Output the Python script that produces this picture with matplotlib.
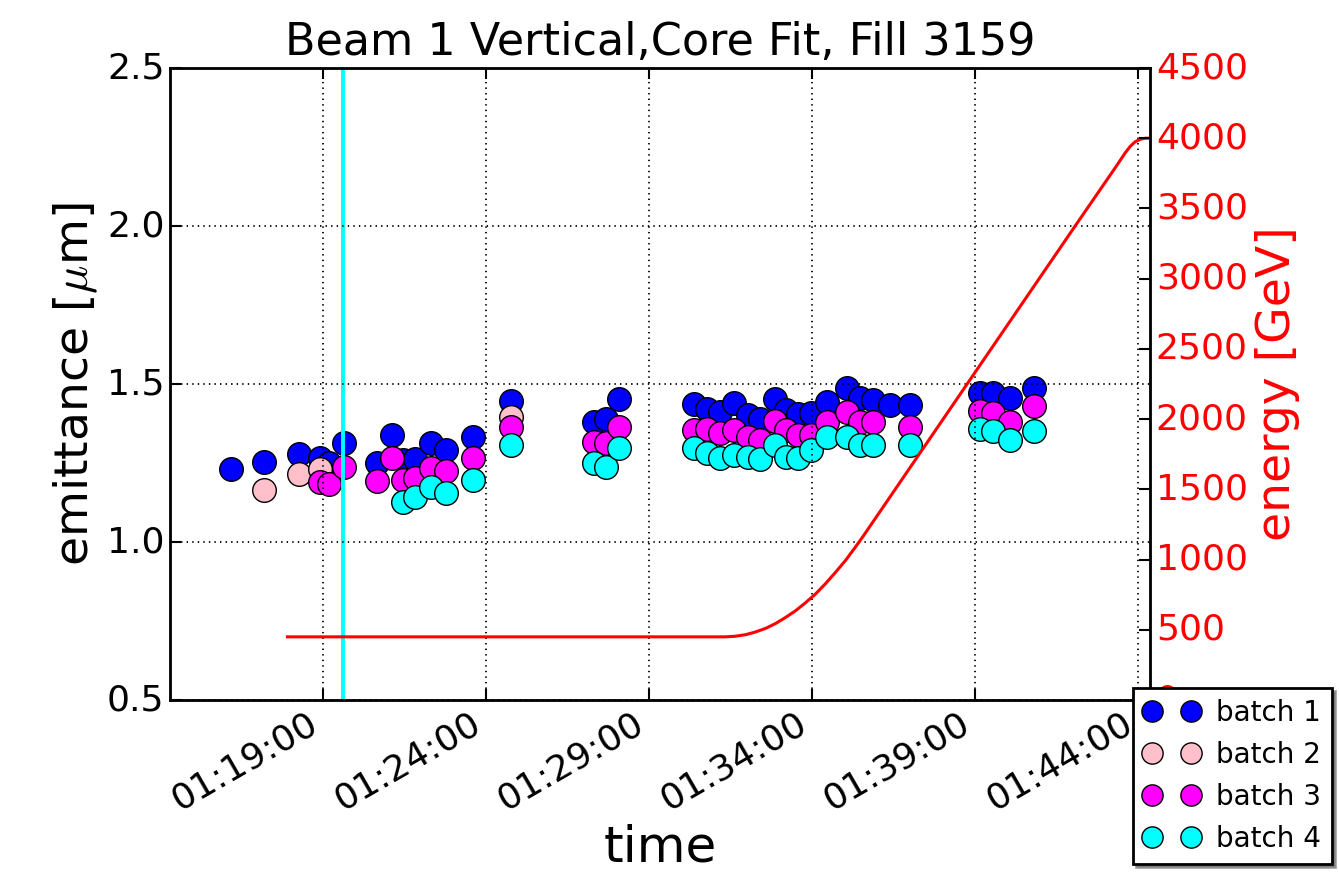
import numpy as np
import pandas as pd
import matplotlib
matplotlib.use("Agg")
import matplotlib.pyplot as plt
import matplotlib.dates as mdates

plt.style.use("classic")

# ---- emittance measurements (um), one row per scan time ----
nan = np.nan
scan_times = ["01:16:11", "01:17:10", "01:18:16", "01:18:54", "01:19:11", "01:19:39",
              "01:20:39", "01:21:07", "01:21:27", "01:21:49", "01:22:19", "01:22:46",
              "01:23:36", "01:24:46", "01:27:19", "01:27:41", "01:28:05",
              "01:30:23", "01:30:47", "01:31:11", "01:31:36", "01:32:02", "01:32:24",
              "01:32:52", "01:33:12", "01:33:34", "01:33:58", "01:34:28", "01:35:04",
              "01:35:28", "01:35:52", "01:36:24", "01:37:00",
              "01:39:09", "01:39:33", "01:40:04", "01:40:49"]

batch1 = [1.231, 1.253, 1.278, 1.266, 1.250, 1.313,
          1.250, 1.339, 1.259, 1.263, 1.313, 1.291,
          1.332, 1.446, 1.380, 1.389, 1.453,
          1.437, 1.421, 1.411, 1.440, 1.402, 1.389,
          1.453, 1.418, 1.405, 1.408, 1.443, 1.487,
          1.456, 1.449, 1.434, 1.434,
          1.472, 1.472, 1.456, 1.487]

batch2 = [nan, 1.165, 1.215, 1.231, nan, nan,
          nan, nan, nan, nan, nan, nan,
          nan, 1.396, nan, nan, nan,
          nan, nan, nan, nan, nan, nan,
          nan, nan, nan, nan, nan, nan,
          nan, nan, nan, nan,
          nan, nan, nan, nan]

batch3 = [nan, nan, nan, 1.190, 1.184, 1.237,
          1.193, 1.266, 1.196, 1.203, 1.234, 1.225,
          1.266, 1.364, 1.316, 1.313, 1.364,
          1.354, 1.358, 1.345, 1.354, 1.332, 1.323,
          1.383, 1.354, 1.339, 1.339, 1.380, 1.411,
          1.380, 1.380, nan, 1.364,
          1.415, 1.408, 1.380, 1.430]

batch4 = [nan, nan, nan, nan, nan, nan,
          nan, nan, 1.127, 1.142, 1.174, 1.155,
          1.196, 1.307, 1.250, 1.237, 1.297,
          1.297, 1.282, 1.266, 1.275, 1.269, 1.263,
          1.307, 1.269, 1.266, 1.291, 1.332, 1.332,
          1.307, 1.307, nan, 1.307,
          1.358, 1.351, 1.323, 1.351]

# ---- beam energy (GeV) during injection plateau and ramp ----
energy_times = ["01:17:54", "01:31:20", "01:31:38", "01:31:57", "01:32:15", "01:32:34",
                "01:32:52", "01:33:10", "01:33:29", "01:33:47", "01:34:06", "01:34:24",
                "01:34:42", "01:35:01", "01:35:19", "01:35:34", "01:38:45", "01:42:04",
                "01:43:18", "01:43:36", "01:43:45", "01:43:54", "01:44:04", "01:44:13",
                "01:44:22"]
energy = [450, 450, 454, 465, 484, 510,
          544, 586, 635, 691, 755, 827,
          906, 993, 1087, 1168, 2250, 3376,
          3792, 3896, 3941, 3974, 3993, 4000,
          4000]

scan_marker = "01:19:37"
day = "2012-10-20 "


def to_dt(lst):
    return pd.to_datetime([day + s for s in lst])


t_scan = to_dt(scan_times)
t_energy = to_dt(energy_times)
t_lo = pd.Timestamp(day + "01:14:18")
t_hi = pd.Timestamp(day + "01:44:22")

fig = plt.figure(figsize=(13.39, 8.81), dpi=100, facecolor="white")
ax = fig.add_axes([0.127, 0.2054, 0.732, 0.7174])
ax.set_facecolor("white")

colors = ["blue", "pink", "magenta", "cyan"]
series = [batch1, batch2, batch3, batch4]
handles = []
for i, (vals, c) in enumerate(zip(series, colors)):
    h, = ax.plot(t_scan, vals, "o", color=c, mec="black", mew=1.0, ms=17,
                 label="batch %d" % (i + 1))
    handles.append(h)

ax.axvline(pd.Timestamp(day + scan_marker), color="cyan", lw=2.8)

ax.set_xlim(t_lo, t_hi)
ax.set_ylim(0.5, 2.5)
ax.set_yticks([0.5, 1.0, 1.5, 2.0, 2.5])
ax.xaxis.set_major_locator(mdates.MinuteLocator(byminute=range(4, 60, 5)))
ax.xaxis.set_major_formatter(mdates.DateFormatter("%H:%M:%S"))
ax.grid(True, color="black", linestyle=":", linewidth=1.3)
ax.tick_params(labelsize=26, width=1.5, length=8)
for lab in ax.get_xticklabels():
    lab.set_rotation(30)
    lab.set_ha("right")
for s in ax.spines.values():
    s.set_linewidth(2)

ax.set_xlabel("time", fontsize=36)
ax.set_ylabel(r"emittance [$\mu$m]", fontsize=34)
ax.set_title("Beam 1 Vertical,Core Fit, Fill 3159", fontsize=32, y=1.01)

ax2 = ax.twinx()
ax2.plot(t_energy, energy, color="red", lw=2.2)
ax2.set_ylim(0, 4500)
ax2.set_yticks(range(0, 4501, 500))
ax2.tick_params(labelsize=26, labelcolor="red", width=1.5, length=8)
ax2.set_ylabel("energy [GeV]", fontsize=34, color="red")
ax2.set_xlim(t_lo, t_hi)

leg = ax2.legend(handles, [h.get_label() for h in handles], loc="upper left",
                 bbox_to_anchor=(0.846, 0.219), bbox_transform=fig.transFigure,
                 borderaxespad=0, numpoints=2, shadow=True, fancybox=False,
                 fontsize=20, handletextpad=0.6, labelspacing=0.5, markerscale=0.9)
leg.get_frame().set_linewidth(2)
leg.get_frame().set_facecolor("white")

fig.savefig("out.png", dpi=100, facecolor="white")
